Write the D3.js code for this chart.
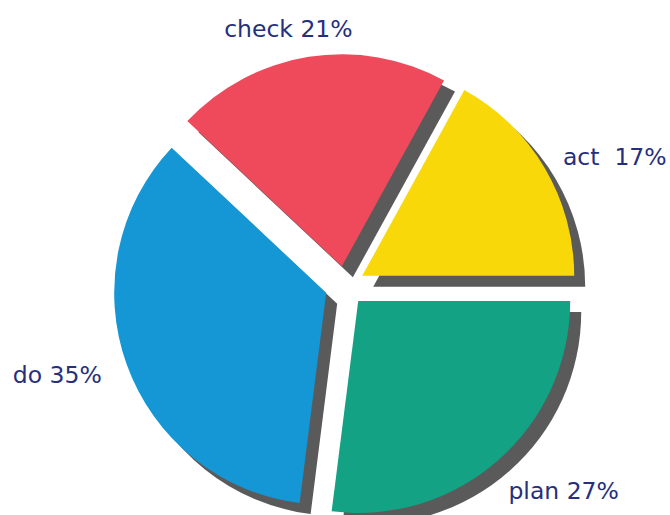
<!DOCTYPE html>
<html>
<head>
<meta charset="utf-8">
<script src="https://cdn.jsdelivr.net/npm/d3@7"></script>
<style>
  body { margin: 0; background: #fff; }
  text { font-family: "DejaVu Sans", sans-serif; }
</style>
</head>
<body>
<div id="chart"></div>
<script>
// PDCA pie, exploded slices with drop shadow
const labels = ["act ", "check", "do", "plan"];
const values = [17, 21, 35, 27];
const colors = ["#f8d808", "#ee4a5b", "#1597d5", "#13a384"];

const width = 670, height = 515;
const cx = 345, cy = 286;
const radius = 212;
const explode = 20;
const shadowOffset = 11;
const labelDist = 1.1;
// small hand nudges so labels sit where the reference has them
const labelNudge = { check: [-17, -7], plan: [-4, 15], do: [-5, 3] };

const svg = d3.select("#chart")
  .append("svg")
  .attr("width", width)
  .attr("height", height);

const data = labels.map((l, i) => ({ label: l, value: values[i], color: colors[i] }));

// start at 3 o'clock, go counterclockwise
const pie = d3.pie()
  .sort(null)
  .value(d => d.value)
  .startAngle(Math.PI / 2)
  .endAngle(Math.PI / 2 - 2 * Math.PI);

const arcs = pie(data);

const arc = d3.arc().innerRadius(0).outerRadius(radius);

function dir(d) {
  const a = (d.startAngle + d.endAngle) / 2;
  return [Math.sin(a), -Math.cos(a)];
}

arcs.forEach(d => {
  const [dx, dy] = dir(d);
  d.x = cx + dx * explode;
  d.y = cy + dy * explode;
});

// shadows first, under every wedge
svg.selectAll(".shadow")
  .data(arcs)
  .enter().append("path")
  .attr("class", "shadow")
  .attr("d", arc)
  .attr("transform", d => `translate(${d.x + shadowOffset},${d.y + shadowOffset})`)
  .style("fill", "#5a5a5a");

svg.selectAll(".slice")
  .data(arcs)
  .enter().append("path")
  .attr("class", "slice")
  .attr("d", arc)
  .attr("transform", d => `translate(${d.x},${d.y})`)
  .style("fill", d => d.data.color);

const total = d3.sum(values);

svg.selectAll(".label")
  .data(arcs)
  .enter().append("text")
  .attr("class", "label")
  .attr("xml:space", "preserve")
  .style("white-space", "pre")
  .attr("x", d => {
    const n = labelNudge[d.data.label.trim()] || [0, 0];
    return d.x + dir(d)[0] * radius * labelDist + n[0];
  })
  .attr("y", d => {
    const n = labelNudge[d.data.label.trim()] || [0, 0];
    return d.y + dir(d)[1] * radius * labelDist + n[1];
  })
  .attr("text-anchor", d => {
    const c = dir(d)[0];
    return c > 0.3 ? "start" : c < -0.3 ? "end" : "middle";
  })
  .attr("dominant-baseline", "central")
  .style("font-size", "23.5px")
  .style("fill", "#262f7c")
  .text(d => `${d.data.label} ${Math.round(d.data.value / total * 100)}%`);
</script>
</body>
</html>
